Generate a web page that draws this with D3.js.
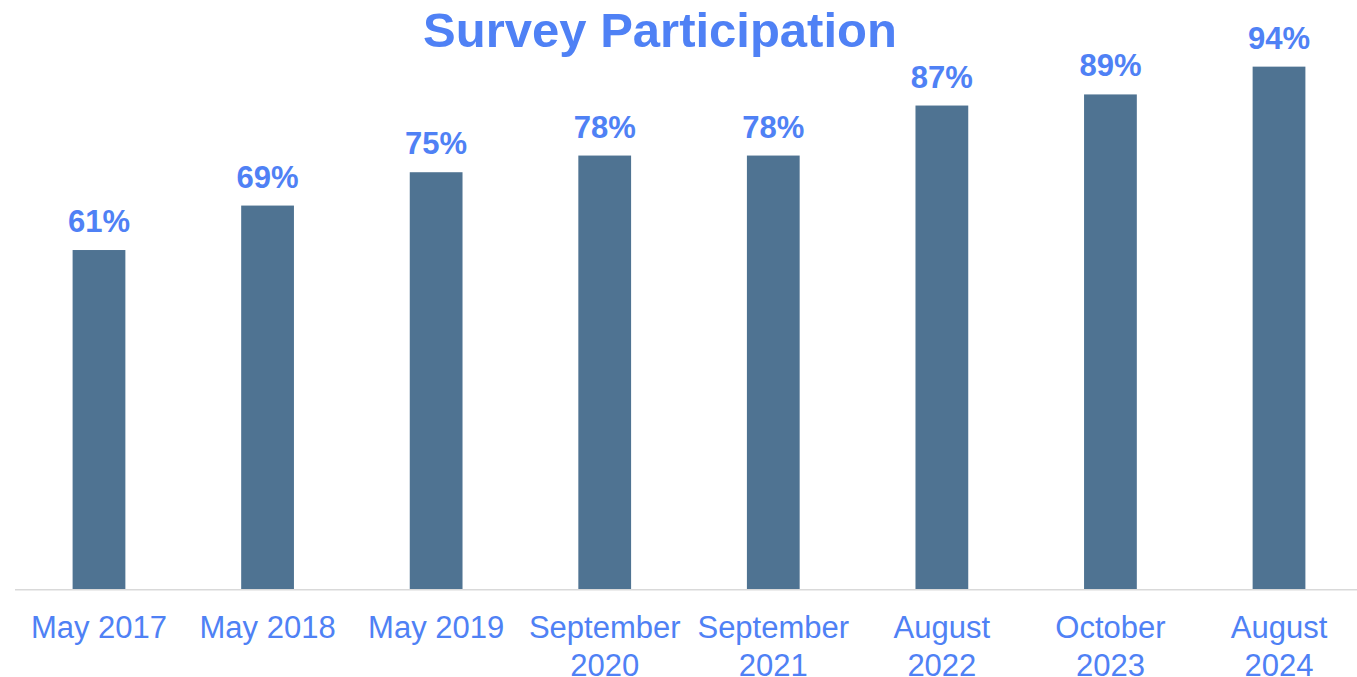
<!DOCTYPE html>
<html>
<head>
<meta charset="utf-8">
<script src="https://cdn.jsdelivr.net/npm/d3@7"></script>
<style>
  html, body { margin: 0; padding: 0; background: #ffffff; }
  svg { display: block; font-family: "Liberation Sans", Arial, sans-serif; }
</style>
</head>
<body>
<div id="chart"></div>
<script>
// chart data
const periods = ["May 2017", "May 2018", "May 2019", "September 2020", "September 2021", "August 2022", "October 2023", "August 2024"];
const participation = [61, 69, 75, 78, 78, 87, 89, 94];
const periodLines = [["May 2017"], ["May 2018"], ["May 2019"], ["September", "2020"], ["September", "2021"], ["August", "2022"], ["October", "2023"], ["August", "2024"]];

(function () {
    const width = 1357, height = 677;
    const blue = "#4f81f5", barColor = "#4f7392";

    const svg = d3.select("#chart")
        .append("svg")
        .attr("width", width)
        .attr("height", height);

    const data = periods.map((p, i) => ({ period: p, value: participation[i], lines: periodLines[i] }));

    const x = d3.scaleBand()
        .domain(periods)
        .range([14.7, 1363.3])
        .paddingInner(0.687)
        .paddingOuter(0.3435);

    const y = d3.scaleLinear()
        .domain([0, 100])
        .range([589, 33.3]);

    // title
    svg.append("text")
        .attr("x", 660)
        .attr("y", 46.5)
        .attr("text-anchor", "middle")
        .style("font-size", "49px")
        .style("font-weight", "bold")
        .style("fill", blue)
        .text("Survey Participation");

    // bars
    svg.selectAll("rect.bar")
        .data(data)
        .enter()
        .append("rect")
        .attr("class", "bar")
        .attr("x", d => x(d.period))
        .attr("y", d => y(d.value))
        .attr("width", x.bandwidth())
        .attr("height", d => y(0) - y(d.value))
        .style("fill", barColor);

    // axis line
    svg.append("line")
        .attr("x1", 15)
        .attr("x2", width)
        .attr("y1", y(0) + 0.7)
        .attr("y2", y(0) + 0.7)
        .style("stroke", "#d9d9d9")
        .style("stroke-width", 1.5);

    // value labels
    svg.selectAll("text.value")
        .data(data)
        .enter()
        .append("text")
        .attr("class", "value")
        .attr("x", d => x(d.period) + x.bandwidth() / 2)
        .attr("y", d => y(d.value) - 18)
        .attr("text-anchor", "middle")
        .style("font-size", "31px")
        .style("font-weight", "bold")
        .style("fill", blue)
        .text(d => d.value + "%");

    // category labels
    const labels = svg.selectAll("text.cat")
        .data(data)
        .enter()
        .append("text")
        .attr("class", "cat")
        .attr("text-anchor", "middle")
        .style("font-size", "31px")
        .style("fill", blue);

    labels.each(function (d) {
        const cx = x(d.period) + x.bandwidth() / 2;
        d3.select(this).selectAll("tspan")
            .data(d.lines)
            .enter()
            .append("tspan")
            .attr("x", cx)
            .attr("y", (t, i) => 638 + i * 37.5)
            .text(t => t);
    });
})();
</script>
</body>
</html>
